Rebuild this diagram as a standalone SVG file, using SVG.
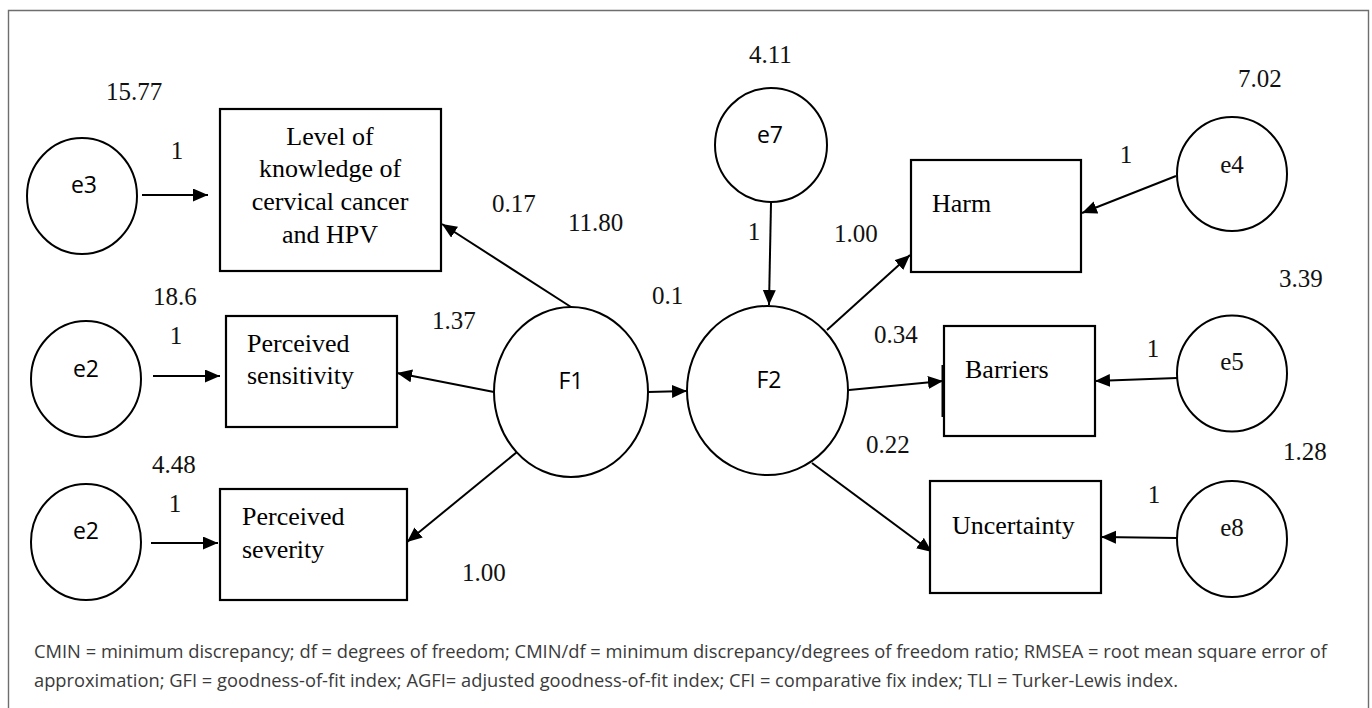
<svg xmlns="http://www.w3.org/2000/svg" width="1372" height="708" viewBox="0 0 1372 708">
<style>
.frame{fill:none;stroke:#6e6e6e;stroke-width:1.4}
.node{fill:#fff;stroke:#000;stroke-width:2}
.box{fill:#fff;stroke:#000;stroke-width:2.2}
.edge{fill:none;stroke:#000;stroke-width:2}
.sans{font-family:"Open Sans","DejaVu Sans",sans-serif;font-size:23px;fill:#000;text-anchor:middle}
.ser{font-family:"Liberation Serif","Times New Roman",serif;font-size:26px;fill:#000}
.num{font-family:"Liberation Serif","Times New Roman",serif;font-size:25px;fill:#111}
.mid{text-anchor:middle}
.cap{font-family:"Open Sans","DejaVu Sans",sans-serif;font-size:18px;fill:#3a3a3a}
</style>
<defs>
<marker id="ah" markerUnits="userSpaceOnUse" markerWidth="16" markerHeight="14" refX="15" refY="6.5" orient="auto">
<path d="M0,0 L15,6.5 L0,13 z" fill="#000"/>
</marker>
</defs>
<path class="frame" d="M8.5,712 V10.5 H1368.5 V712"/>

<g id="connectors">
<line class="edge" x1="142" y1="195" x2="208" y2="195" marker-end="url(#ah)"/>
<line class="edge" x1="153" y1="376" x2="220" y2="376" marker-end="url(#ah)"/>
<line class="edge" x1="151" y1="543" x2="218" y2="543" marker-end="url(#ah)"/>
<line class="edge" x1="571" y1="307" x2="442" y2="224" marker-end="url(#ah)"/>
<line class="edge" x1="494" y1="392" x2="397" y2="373" marker-end="url(#ah)"/>
<line class="edge" x1="517" y1="452" x2="407" y2="542" marker-end="url(#ah)"/>
<line class="edge" x1="648" y1="392" x2="687" y2="391" marker-end="url(#ah)"/>
<line class="edge" x1="771" y1="203" x2="769" y2="305" marker-end="url(#ah)"/>
<line class="edge" x1="827" y1="330" x2="910" y2="255" marker-end="url(#ah)"/>
<line class="edge" x1="849" y1="390" x2="943" y2="381" marker-end="url(#ah)"/>
<line class="edge" x1="812" y1="463" x2="932" y2="552" marker-end="url(#ah)"/>
<line class="edge" x1="1176" y1="176" x2="1082" y2="213" marker-end="url(#ah)"/>
<line class="edge" x1="1177" y1="378" x2="1095" y2="381" marker-end="url(#ah)"/>
<line class="edge" x1="1177" y1="538" x2="1101" y2="537" marker-end="url(#ah)"/>
</g>

<g id="e3"><ellipse class="node" cx="82" cy="196" rx="55" ry="58"/><text class="sans" x="84" y="193">e3</text></g>
<g id="e2a"><ellipse class="node" cx="86" cy="379" rx="55" ry="58"/><text class="sans" x="86" y="377">e2</text></g>
<g id="e2b"><ellipse class="node" cx="86" cy="542" rx="55" ry="58"/><text class="sans" x="86" y="539">e2</text></g>
<g id="e7"><ellipse class="node" cx="771" cy="145" rx="56" ry="57"/><text class="sans" x="770" y="143">e7</text></g>
<g id="F1"><ellipse class="node" cx="571" cy="392" rx="77" ry="85"/><text class="sans" x="571" y="389">F1</text></g>
<g id="F2"><ellipse class="node" cx="767.5" cy="390.5" rx="80.5" ry="84.5"/><text class="sans" x="769" y="388">F2</text></g>
<g id="e4"><ellipse class="node" cx="1232" cy="174" rx="55" ry="57"/><text class="num mid" x="1232" y="173">e4</text></g>
<g id="e5"><ellipse class="node" cx="1232" cy="373.5" rx="55" ry="58"/><text class="num mid" x="1232" y="370">e5</text></g>
<g id="e8"><ellipse class="node" cx="1232" cy="539" rx="55" ry="58"/><text class="num mid" x="1232" y="536">e8</text></g>

<g id="knowledge"><rect class="box" x="220" y="109" width="221" height="162"/>
<text class="ser mid" x="330"><tspan x="330" y="145">Level of</tspan><tspan x="330" y="177">knowledge of</tspan><tspan x="330" y="210">cervical cancer</tspan><tspan x="330" y="243">and HPV</tspan></text></g>
<g id="sensitivity"><rect class="box" x="226" y="316" width="171" height="111"/>
<text class="ser"><tspan x="247" y="352">Perceived</tspan><tspan x="247" y="384">sensitivity</tspan></text></g>
<g id="severity"><rect class="box" x="220" y="489" width="187" height="111"/>
<text class="ser"><tspan x="242" y="525">Perceived</tspan><tspan x="242" y="558">severity</tspan></text></g>
<g id="harm"><rect class="box" x="911" y="160" width="170" height="112"/><text class="ser" x="932" y="212">Harm</text></g>
<g id="barriers"><rect class="box" x="944" y="326" width="151" height="110"/><line x1="943" y1="365" x2="943" y2="417" stroke="#000" stroke-width="3"/><text class="ser" x="965" y="378">Barriers</text></g>
<g id="uncertainty"><rect class="box" x="930" y="481" width="171" height="112"/><text class="ser" x="952" y="534">Uncertainty</text></g>

<g id="labels">
<text class="num" x="106" y="100">15.77</text>
<text class="num mid" x="177" y="159">1</text>
<text class="num" x="153" y="305">18.6</text>
<text class="num mid" x="176" y="344">1</text>
<text class="num" x="152" y="473">4.48</text>
<text class="num mid" x="175" y="512">1</text>
<text class="num" x="492" y="212">0.17</text>
<text class="num" x="568" y="231">11.80</text>
<text class="num" x="432" y="329">1.37</text>
<text class="num" x="652" y="304">0.1</text>
<text class="num" x="749" y="63">4.11</text>
<text class="num mid" x="754" y="240">1</text>
<text class="num" x="834" y="242">1.00</text>
<text class="num" x="874" y="343">0.34</text>
<text class="num" x="866" y="453">0.22</text>
<text class="num" x="462" y="581">1.00</text>
<text class="num" x="1238" y="87">7.02</text>
<text class="num mid" x="1126" y="163">1</text>
<text class="num" x="1279" y="287">3.39</text>
<text class="num mid" x="1153" y="357">1</text>
<text class="num" x="1283" y="460">1.28</text>
<text class="num mid" x="1154" y="503">1</text>
</g>

<g id="caption">
<text class="cap" x="34" y="658" textLength="1293" lengthAdjust="spacingAndGlyphs">CMIN = minimum discrepancy; df = degrees of freedom; CMIN/df = minimum discrepancy/degrees of freedom ratio; RMSEA = root mean square error of</text>
<text class="cap" x="34" y="687" textLength="1144" lengthAdjust="spacingAndGlyphs">approximation; GFI = goodness-of-fit index; AGFI= adjusted goodness-of-fit index; CFI = comparative fix index; TLI = Turker-Lewis index.</text>
</g>
</svg>
